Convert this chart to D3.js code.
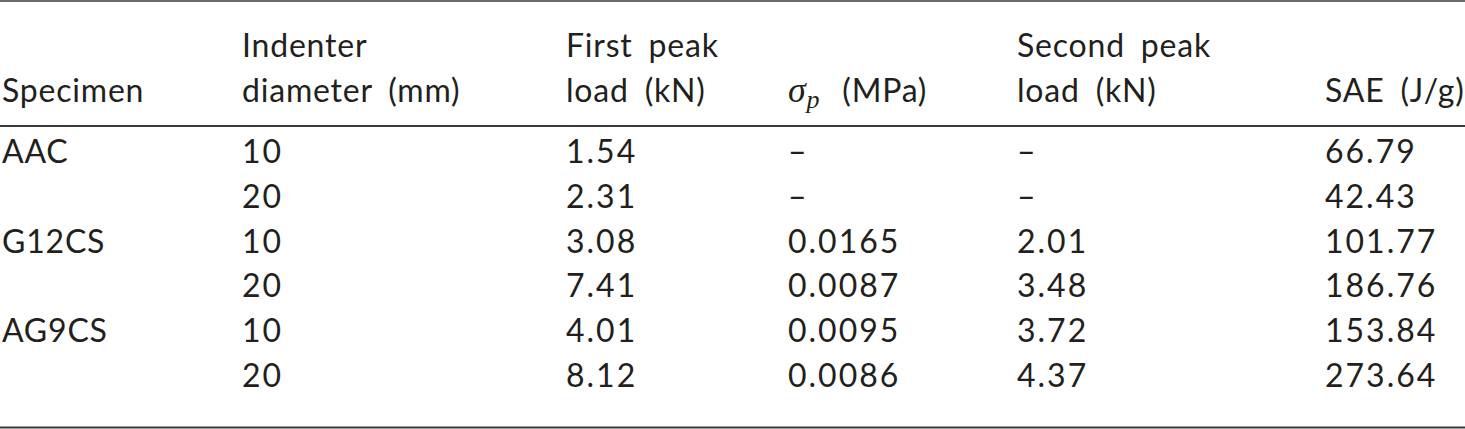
<!DOCTYPE html>
<html>
<head>
<meta charset="utf-8">
<script src="https://cdn.jsdelivr.net/npm/d3@7"></script>
<style>
  body { margin: 0; background: #fff; }
  text { font-family: Lato, "Open Sans", sans-serif; fill: #231f20; letter-spacing: 0.8px; word-spacing: 7px; }
  text.num { letter-spacing: 2px; }
</style>
</head>
<body>
<div id="chart-area"></div>
<script>
// table data
var specimens = ["AAC", "", "G12CS", "", "AG9CS", ""];
var diameters = ["10", "20", "10", "20", "10", "20"];
var firstPeak = ["1.54", "2.31", "3.08", "7.41", "4.01", "8.12"];
var sigmaP = ["\u2013", "\u2013", "0.0165", "0.0087", "0.0095", "0.0086"];
var secondPeak = ["\u2013", "\u2013", "2.01", "3.48", "3.72", "4.37"];
var sae = ["66.79", "42.43", "101.77", "186.76", "153.84", "273.64"];

var headers = [
    ["", "Specimen"],
    ["Indenter", "diameter (mm)"],
    ["First peak", "load (kN)"],
    ["", "SIGMA"],
    ["Second peak", "load (kN)"],
    ["", "SAE (J/g)"]
];

var w = 1465, h = 429;
var fontSize = 32;

var svg = d3.select("#chart-area")
    .append("svg")
    .attr("width", w)
    .attr("height", h);

// column left edges
var xScale = d3.scaleOrdinal()
    .domain(d3.range(6))
    .range([2, 242, 566, 788, 1017, 1325]);

// row baselines
var yScale = d3.scalePoint()
    .domain(d3.range(6))
    .range([163, 387]);

var headY = [57, 102];

// rules
svg.append("line")
    .attr("x1", 0).attr("x2", w)
    .attr("y1", 1).attr("y2", 1)
    .attr("stroke", "#3a3a3a")
    .attr("stroke-width", 1.3);

svg.append("line")
    .attr("x1", 0).attr("x2", w)
    .attr("y1", 126).attr("y2", 126)
    .attr("stroke", "#3a3a3a")
    .attr("stroke-width", 1.8);

svg.append("line")
    .attr("x1", 0).attr("x2", w)
    .attr("y1", 427.5).attr("y2", 427.5)
    .attr("stroke", "#3a3a3a")
    .attr("stroke-width", 1.8);

// header
headers.forEach(function (hd, i) {
    hd.forEach(function (t, j) {
        if (!t) return;
        var txt = svg.append("text")
            .attr("x", xScale(i))
            .attr("y", headY[j])
            .attr("font-size", fontSize + "px");
        if (t === "SIGMA") {
            txt.append("tspan")
                .attr("font-family", "'Liberation Serif', serif")
                .attr("font-style", "italic")
                .attr("font-size", "36px")
                .text("\u03c3");
            txt.append("tspan")
                .attr("font-family", "'Liberation Serif', serif")
                .attr("font-style", "italic")
                .attr("font-size", "26px")
                .attr("dy", 6)
                .text("p");
            txt.append("tspan")
                .attr("dy", -6)
                .attr("dx", 6)
                .text(" (MPa)");
        } else {
            txt.text(t);
        }
    });
});

// body
var columns = [specimens, diameters, firstPeak, sigmaP, secondPeak, sae];

columns.forEach(function (col, i) {
    svg.append("g")
        .selectAll("text")
        .data(col)
        .enter()
        .append("text")
        .attr("class", i > 0 ? "num" : null)
        .attr("x", xScale(i))
        .attr("y", function (d, r) { return yScale(r); })
        .attr("font-size", fontSize + "px")
        .attr("font-family", function (d) { return d === "\u2013" ? "'DejaVu Sans', sans-serif" : null; })
        .text(function (d) { return d; });
});
</script>
</body>
</html>
